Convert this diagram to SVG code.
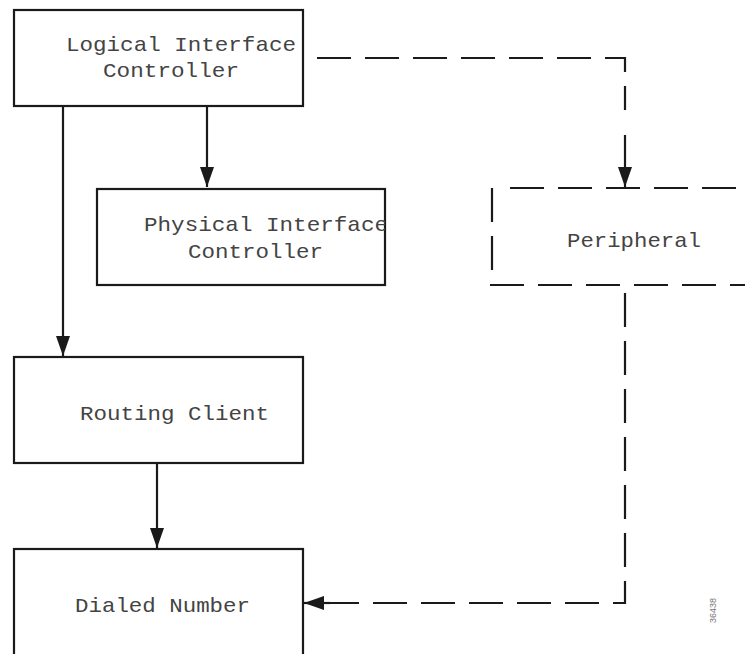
<svg xmlns="http://www.w3.org/2000/svg" width="745" height="654" viewBox="0 0 745 654">
  <style>
    .box { fill: #ffffff; stroke: #1a1a1a; stroke-width: 2.2; }
    .dbox { fill: none; stroke: #1a1a1a; stroke-width: 2.2; stroke-dasharray: 34 14; }
    .lbl { font-family: "Liberation Mono", "Courier New", monospace; font-size: 21px; fill: #444444; }
    .solid { fill: none; stroke: #1a1a1a; stroke-width: 2.2; }
    .dash { fill: none; stroke: #1a1a1a; stroke-width: 2.2; stroke-dasharray: 34 14; }
    .fid { font-family: "Liberation Sans", Arial, sans-serif; font-size: 9px; fill: #777777; }
  </style>
  <defs>
    <marker id="arr" viewBox="0 0 20 16" refX="20" refY="8" markerWidth="20" markerHeight="16" markerUnits="userSpaceOnUse" orient="auto">
      <path d="M0,1 L20,8 L0,15 Z" fill="#1a1a1a"/>
    </marker>
    <clipPath id="picClip"><rect x="97" y="189" width="288" height="96"/></clipPath>
  </defs>
  <rect width="745" height="654" fill="#ffffff"/>

  <g id="connectors">
    <path class="solid" d="M63,106 L63,356" marker-end="url(#arr)"/>
    <path class="solid" d="M207,106 L207,187" marker-end="url(#arr)"/>
    <path class="solid" d="M157,463 L157,548" marker-end="url(#arr)"/>
    <path class="dash" d="M317,58 L625,58 L625,110"/>
    <path class="solid" d="M625,135 L625,187" marker-end="url(#arr)"/>
    <path class="dash" d="M625,293 L625,603 L330,603"/>
    <path class="solid" d="M330,603 L304,603" marker-end="url(#arr)"/>
  </g>

  <g id="logical-interface-controller">
    <rect class="box" x="14" y="10" width="289" height="96"/>
    <text class="lbl" x="66" y="51" textLength="230" lengthAdjust="spacingAndGlyphs">Logical Interface</text>
    <text class="lbl" x="103" y="77" textLength="136" lengthAdjust="spacingAndGlyphs">Controller</text>
  </g>

  <g id="physical-interface-controller">
    <rect class="box" x="97" y="189" width="288" height="96"/>
    <g clip-path="url(#picClip)">
      <text class="lbl" x="144" y="231" textLength="244" lengthAdjust="spacingAndGlyphs">Physical Interface</text>
    </g>
    <text class="lbl" x="188" y="258" textLength="135" lengthAdjust="spacingAndGlyphs">Controller</text>
  </g>

  <g id="peripheral">
    <path class="dbox" d="M510,188 L745,188"/>
    <path class="dbox" d="M492,188 L492,285"/>
    <path class="dbox" d="M490,285 L745,285"/>
    <text class="lbl" x="567" y="247" textLength="134" lengthAdjust="spacingAndGlyphs">Peripheral</text>
  </g>

  <g id="routing-client">
    <rect class="box" x="14" y="357" width="289" height="106"/>
    <text class="lbl" x="80" y="420" textLength="189" lengthAdjust="spacingAndGlyphs">Routing Client</text>
  </g>

  <g id="dialed-number">
    <rect class="box" x="14" y="549" width="289" height="120"/>
    <text class="lbl" x="75" y="612" textLength="175" lengthAdjust="spacingAndGlyphs">Dialed Number</text>
  </g>

  <text class="fid" x="0" y="0" transform="translate(716,623) rotate(-90)">36438</text>
</svg>
